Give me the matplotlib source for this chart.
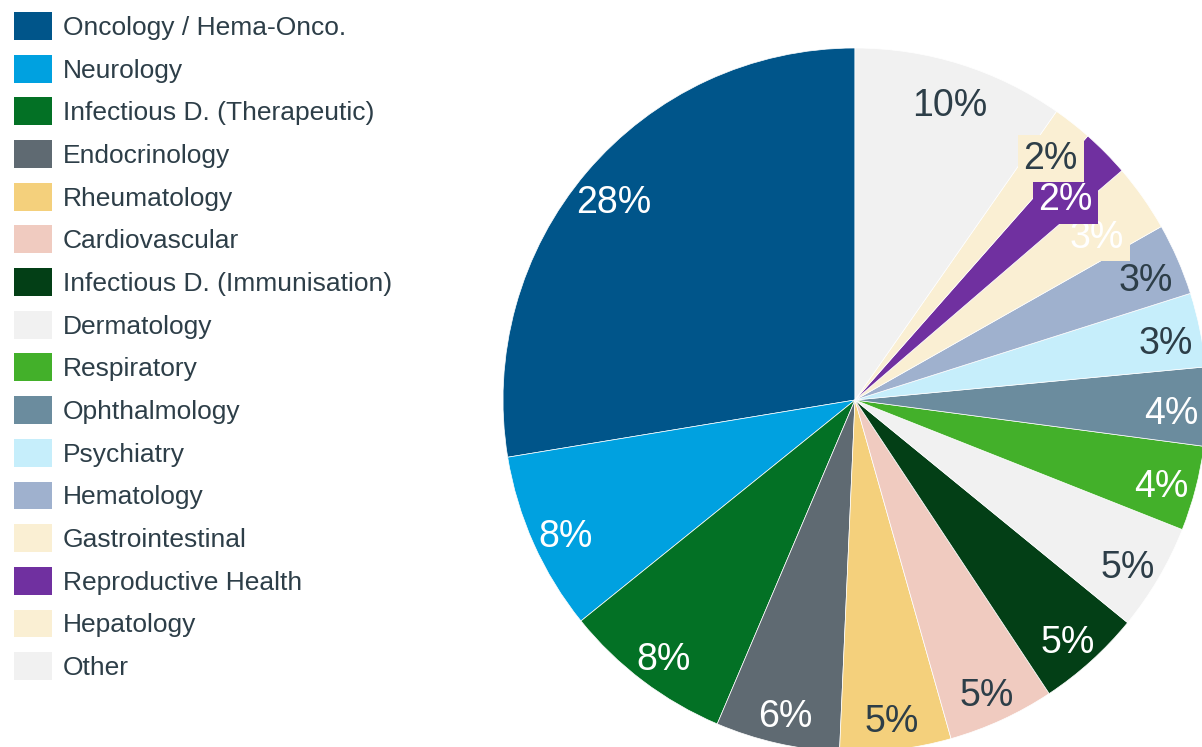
import numpy as np
import matplotlib.pyplot as plt

plt.rcParams['font.family'] = ['Liberation Sans', 'DejaVu Sans']

# therapy areas, counter-clockwise from 12 o'clock
areas = ['Oncology / Hema-Onco.', 'Neurology', 'Infectious D. (Therapeutic)',
         'Endocrinology', 'Rheumatology', 'Cardiovascular',
         'Infectious D. (Immunisation)', 'Dermatology', 'Respiratory',
         'Ophthalmology', 'Psychiatry', 'Hematology', 'Gastrointestinal',
         'Reproductive Health', 'Hepatology', 'Other']
shares = [27.6, 8.2, 7.8, 5.7, 5.1, 4.9, 4.8, 4.9, 3.9, 3.6, 3.4, 3.3, 3.1,
          2.2, 1.8, 9.7]

colors = ['#00558A', '#00A1E0', '#037125', '#5F6A72', '#F4D07C', '#F0CBC0',
          '#033F16', '#F1F1F1', '#43B02A', '#6B8C9E', '#C6EEFB', '#9FB1CE',
          '#FAEFD3', '#7030A0', '#FAEFD3', '#F1F1F1']
dark = '#2D3E48'
label_colors = ['white', 'white', 'white', 'white', dark, dark, 'white', dark,
                'white', 'white', dark, dark, 'white', 'white', dark, dark]
# crowded labels pulled a bit towards the centre
label_radius = {'Gastrointestinal': 0.84, 'Reproductive Health': 0.84}

fig = plt.figure(figsize=(12.02, 7.47), dpi=100)
# pie centre at (855, 400) px, radius 352 px
ax = fig.add_axes([503 / 1202, -5 / 747, 704 / 1202, 704 / 747])

wedges, texts, pcts = ax.pie(shares, colors=colors, startangle=90,
                             autopct='%.0f%%', pctdistance=0.9,
                             wedgeprops=dict(edgecolor='white', linewidth=0.5))
for name, w, t, wc, tc, v in zip(areas, wedges, pcts, colors, label_colors, shares):
    ang = np.deg2rad((w.theta1 + w.theta2) / 2)
    r = label_radius.get(name, 0.9)
    t.set_position((r * np.cos(ang), r * np.sin(ang) - 0.022))
    t.set_fontsize(27)
    t.set_color(tc)
    if v < 3.2:
        # small slices: label sits on a patch of its own colour
        t.set_bbox(dict(boxstyle='square,pad=0.15', facecolor=wc, edgecolor='none'))

ax.set_xlim(-1, 1)
ax.set_ylim(-1, 1)
ax.set_aspect('equal')
ax.axis('off')

leg = fig.legend(wedges, areas, loc='upper left',
                 bbox_to_anchor=(14 / 1202, 1 - 12 / 747), frameon=False,
                 fontsize=19, borderpad=0, borderaxespad=0,
                 handlelength=1.44, handleheight=1.25, handletextpad=0.42,
                 labelspacing=0.56)
for t in leg.get_texts():
    t.set_color(dark)
for h in leg.legend_handles:
    h.set_edgecolor('none')

fig.savefig('out.png', dpi=100)
